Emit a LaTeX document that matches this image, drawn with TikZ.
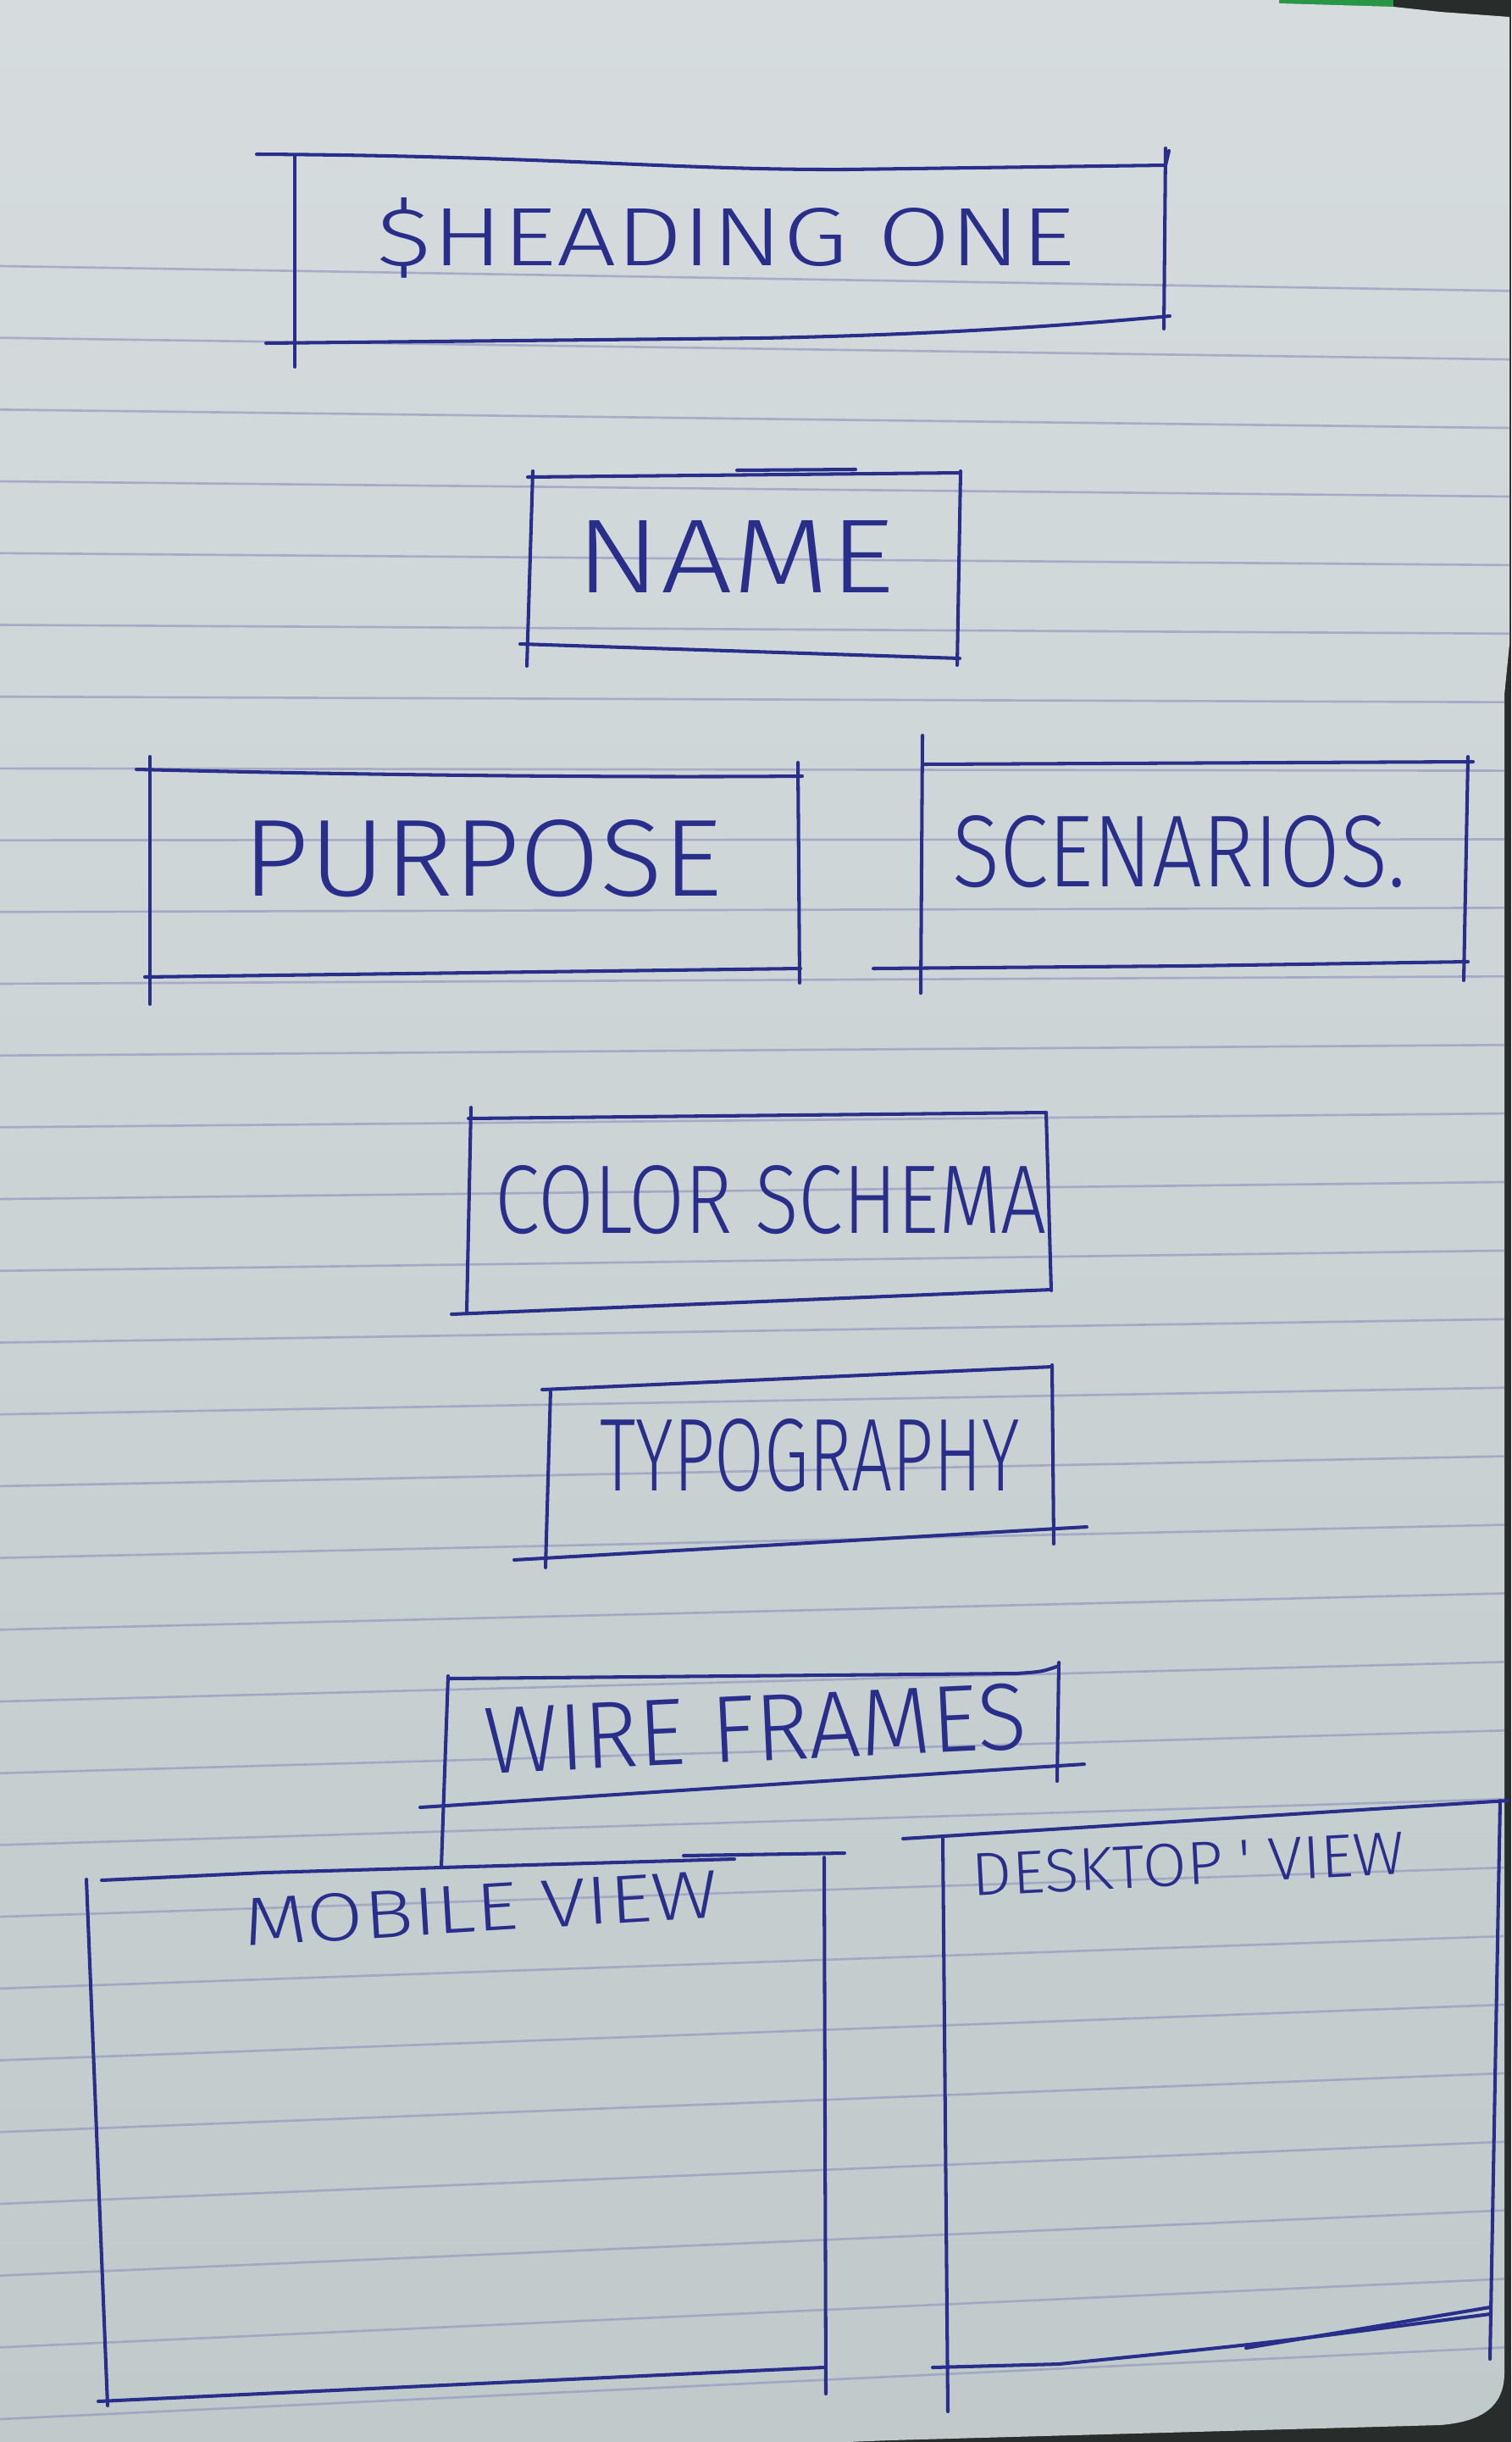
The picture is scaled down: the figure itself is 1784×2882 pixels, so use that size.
\documentclass[tikz,border=0pt]{standalone}
\usepackage{fontspec}
\usepackage{graphicx}
\newfontfamily\hand{Fira Sans Light}
\definecolor{paperTop}{RGB}{214,220,221}
\definecolor{paperBot}{RGB}{192,202,203}
\definecolor{ink}{RGB}{40,46,138}
\definecolor{rule}{RGB}{146,148,190}
\definecolor{desk}{RGB}{40,44,42}
\definecolor{cloth}{RGB}{40,150,70}

\begin{document}
\begin{tikzpicture}[x=0.01cm,y=-0.01cm,
  ink/.style={draw=ink,line width=1.15pt,line cap=round,line join=round},
  label/.style={text=ink,inner sep=0pt,font=\hand},
  ruled/.style={draw=rule,line width=0.75pt,opacity=0.65}]
\useasboundingbox (0,0) rectangle (1784,2882);

% desk behind the sheet, then the sheet itself
\fill[desk] (0,0) rectangle (1784,2882);
\fill[cloth] (1510,0) rectangle (1645,8);
\def\sheet{(0,0) -- (1510,0) -- (1510,4) -- (1645,8) -- (1700,14) -- (1782,20)
  -- (1782,760) -- (1776,820)
  -- (1776,2800) .. controls (1776,2840) and (1750,2858) .. (1700,2862)
  -- (1050,2880) -- (1000,2882) -- (0,2882) -- cycle}
\shade[top color=paperTop,bottom color=paperBot] \sheet;

% ruled lines of the notebook page
\begin{scope}
  \clip \sheet;
  \foreach \k in {0,...,30}{
    \pgfmathsetmacro\yl{314+84.7*\k}
    \pgfmathsetmacro\yr{\yl+30-0.045*(\yl-300)}
    \draw[ruled] (0,\yl) -- (1784,\yr);
  }
\end{scope}

% ---- HEADING ONE
\draw[ink] (303,182) .. controls (650,184) and (800,201) .. (1000,200) -- (1376,195) -- (1380,178);
\draw[ink] (348,183) -- (348,433);
\draw[ink] (1376,175) -- (1374,388);
\draw[ink] (314,405) -- (900,399) .. controls (1100,395) and (1250,385) .. (1381,373);
\node[label] (heading) at (857,281) {\resizebox{8.24cm}{0.80cm}{\$HEADING ONE}};

% ---- NAME
\draw[ink] (623,563) -- (1134,558);
\draw[ink] (870,555) -- (1010,554);
\draw[ink] (629,556) -- (622,786);
\draw[ink] (1134,556) -- (1130,785);
\draw[ink] (614,760) -- (1133,777);
\node[label] (name) at (868,657) {\resizebox{3.77cm}{0.85cm}{NAME}};

% ---- PURPOSE
\draw[ink] (161,908) .. controls (400,914) and (700,918) .. (947,916);
\draw[ink] (177,893) -- (177,1185);
\draw[ink] (942,900) -- (944,1160);
\draw[ink] (171,1153) -- (945,1143);
\node[label] (purpose) at (570,1013) {\resizebox{5.66cm}{0.90cm}{PURPOSE}};

% ---- SCENARIOS
\draw[ink] (1089,902) -- (1739,899);
\draw[ink] (1089,868) -- (1087,1172);
\draw[ink] (1733,893) -- (1728,1157);
\draw[ink] (1031,1143) -- (1400,1140) -- (1733,1135);
\node[label] (scenarios) at (1392,1005) {\resizebox{5.35cm}{0.84cm}{SCENARIOS.}};

% ---- COLOR SCHEMA
\draw[ink] (553,1320) -- (1235,1313);
\draw[ink] (556,1307) -- (551,1548);
\draw[ink] (1235,1313) -- (1241,1523);
\draw[ink] (533,1551) -- (1241,1522);
\node[label] (color) at (910,1416) {\resizebox{6.51cm}{0.80cm}{COLOR SCHEMA}};

% ---- TYPOGRAPHY
\draw[ink] (640,1640) -- (1242,1613);
\draw[ink] (650,1640) -- (644,1850);
\draw[ink] (1242,1611) -- (1244,1822);
\draw[ink] (607,1841) -- (1283,1802);
\node[label] (typo) at (956,1718) {\resizebox{4.95cm}{0.85cm}{TYPOGRAPHY}};

% ---- WIRE FRAMES
\coordinate (wfTopLeft) at (529,1978);
\coordinate (mobTopEdge) at (521,2203);
\draw[ink] (529,1981) -- (1200,1975) .. controls (1230,1973) .. (1250,1966);
\draw[ink] (wfTopLeft) -- (mobTopEdge);
\draw[ink] (1250,1962) -- (1248,2102);
\draw[ink] (496,2133) -- (1280,2082);
\node[label,rotate=2.7] (wire) at (892,2040) {\resizebox{6.40cm}{0.78cm}{WIRE FRAMES}};

% ---- MOBILE VIEW
\draw[ink] (120,2219) -- (313,2210) -- (867,2194);
\draw[ink] (807,2190) -- (997,2187);
\draw[ink] (102,2218) -- (127,2839);
\draw[ink] (973,2192) -- (975,2825);
\draw[ink] (116,2834) -- (972,2794);
\node[label,rotate=3.5] (mobile) at (568,2252) {\resizebox{5.61cm}{0.56cm}{MOBILE VIEW}};

% ---- DESKTOP VIEW
\draw[ink] (1066,2170) -- (1780,2125);
\draw[ink] (1113,2168) -- (1119,2846);
\draw[ink] (1771,2125) -- (1759,2784);
\draw[ink] (1101,2794) -- (1250,2790) .. controls (1500,2765) .. (1759,2731);
\draw[ink] (1471,2771) -- (1759,2723);
\node[label,rotate=3] (desktop) at (1403,2200) {\resizebox{5.11cm}{0.50cm}{DESKTOP\hspace{0.25em}'\hspace{0.25em}VIEW}};
\end{tikzpicture}
\end{document}
